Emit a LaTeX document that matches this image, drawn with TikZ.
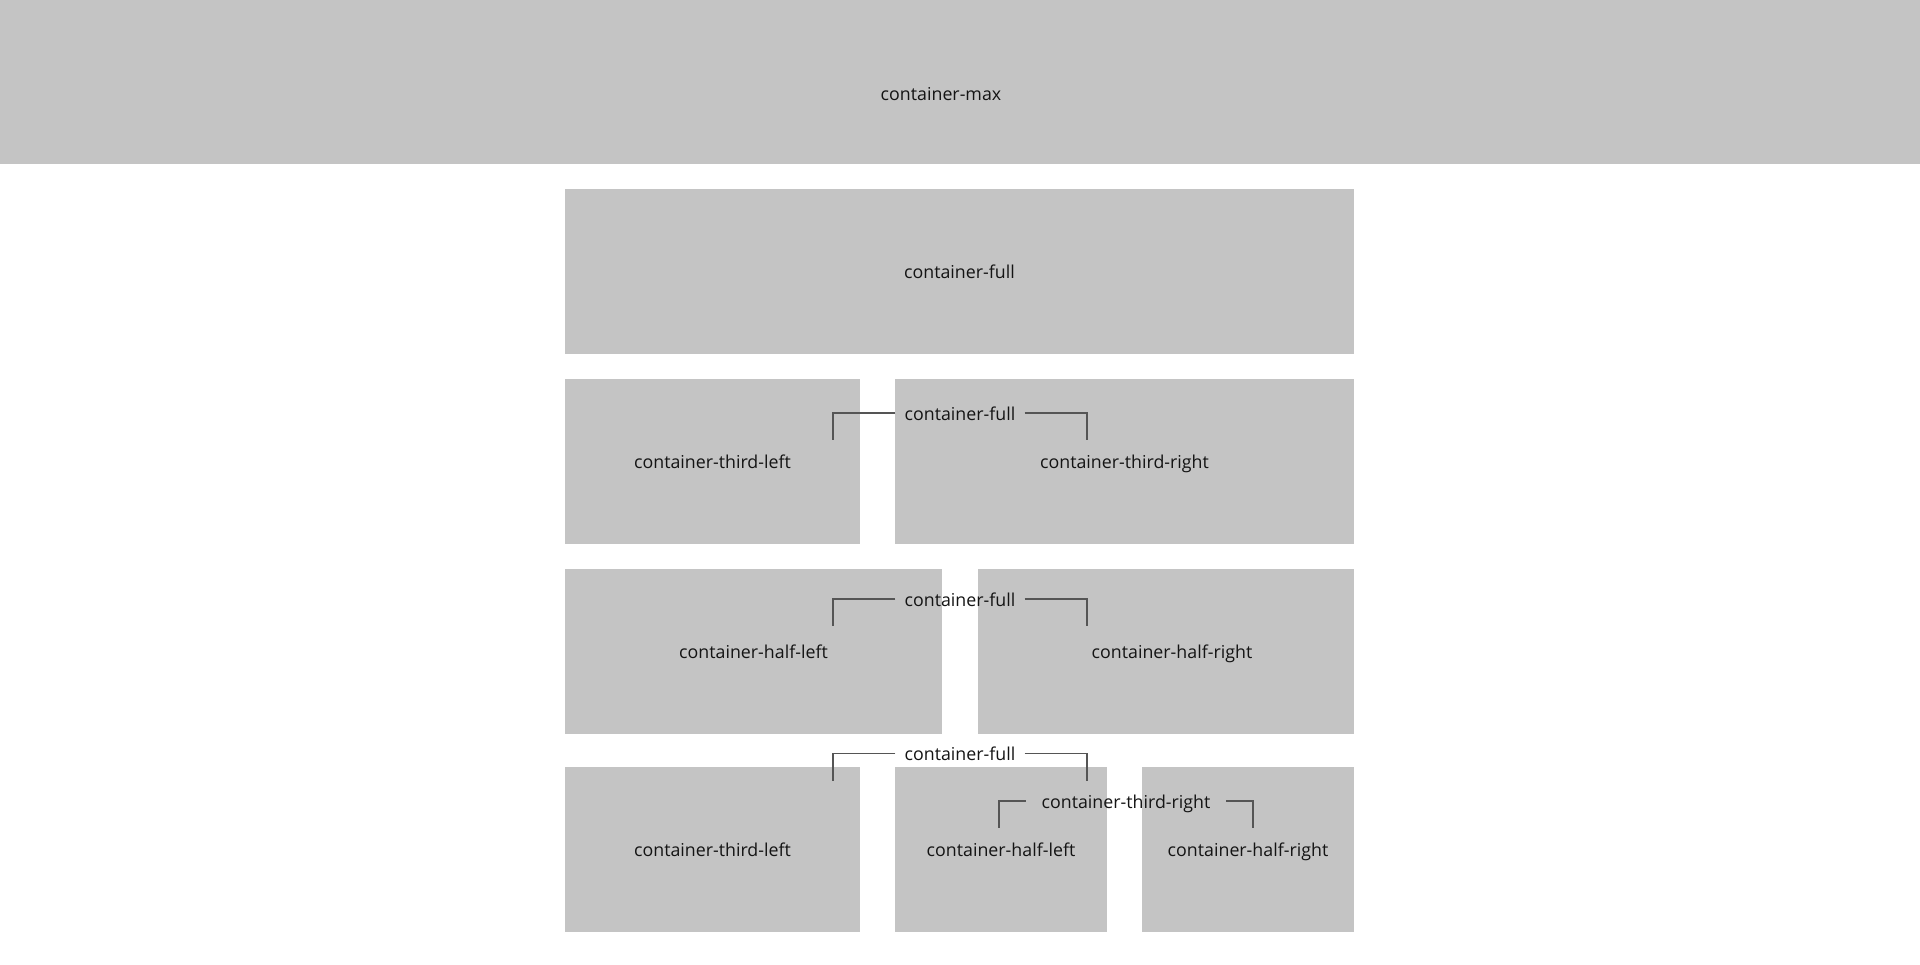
\documentclass[tikz,border=0pt]{standalone}
\usepackage{fontspec}
\setmainfont{Open Sans}
\usetikzlibrary{positioning}
\definecolor{boxgray}{HTML}{C4C4C4}
\definecolor{tickgray}{HTML}{555555}
\tikzset{
  cbox/.style={fill=boxgray, inner sep=0pt},
  lbl/.style={font=\fontsize{17.8}{18}\selectfont, text=black!92, inner sep=0pt, text height=14.6pt, text depth=0pt},
  tick/.style={draw=tickgray, line width=1.4pt},
}
% box named #2 from (#3,#4) to (#5,#6), text #7 at its centre (+ shift #1)
\newcommand\cbox[7][0,0]{\node[cbox, minimum width={#5pt-#3pt}, minimum height={#6pt-#4pt}] (#2) at ({(#3+#5)/2},{(#4+#6)/2}) {};
\node[lbl] (#2-txt) at ([shift={(#1)}]#2.center) {#7};}
% bracket named #1 from x=#2 to x=#3 at height #4, gap #5 wide round the text #6
\newcommand\cbrack[6]{\node[lbl, minimum width=#5] (#1) at ({(#2+#3)/2},#4) {#6};
\coordinate (#1-l) at (#2,#4+27); \coordinate (#1-r) at (#3,#4+27);
\draw[tick] (#1.west) -| (#1-l); \draw[tick] (#1.east) -| (#1-r);}

\begin{document}
\begin{tikzpicture}[x=1pt,y=-1pt]
\useasboundingbox (0,0) rectangle (1920,965);
\cbox[-19,11]{max}{0}{0}{1920}{164}{container-max}
\cbox{full}{565}{189}{1354}{354}{container-full}
% row 2
\cbox{thl-a}{565}{379}{860}{544}{container-third-left}
\cbox{thr-a}{895}{379}{1354}{544}{container-third-right}
% row 3
\cbox{hl-a}{565}{569}{942}{734}{container-half-left}
\cbox[6,0]{hr-a}{978}{569}{1354}{734}{container-half-right}
% row 4
\cbox{thl-b}{565}{767}{860}{932}{container-third-left}
\cbox{hl-b}{895}{767}{1107}{932}{container-half-left}
\cbox{hr-b}{1142}{767}{1354}{932}{container-half-right}
% brackets
\cbrack{cf-a}{833}{1087}{413}{129pt}{container-full}
\cbrack{cf-b}{833}{1087}{599}{129pt}{container-full}
\cbrack{cf-c}{833}{1087}{753.5}{129pt}{container-full}
\cbrack{ctr}{999}{1253}{801}{200pt}{container-third-right}
\end{tikzpicture}
\end{document}
